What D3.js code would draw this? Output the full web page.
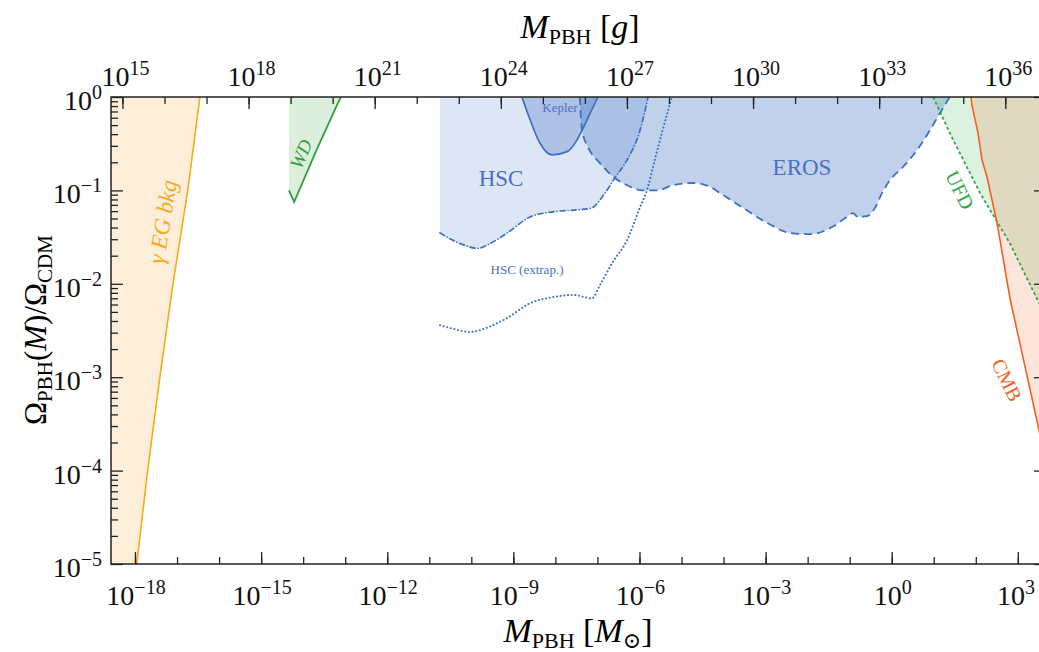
<!DOCTYPE html>
<html>
<head>
<meta charset="utf-8">
<script src="https://cdn.jsdelivr.net/npm/d3@7"></script>
<style>
  body { margin: 0; background: #fff; }
  svg { display: block; }
  text { font-family: "Liberation Serif", "DejaVu Serif", serif; }
</style>
</head>
<body>
<div id="chart"></div>
<script>
// constraint curves, [M_PBH in solar masses, f = Omega_PBH/Omega_CDM]
const gammaEG = [[1.1e-18, 1e-5], [2.0e-18, 1e-4], [3.9e-18, 1e-3], [8.0e-18, 1e-2], [1.8e-17, 0.1], [3.5e-17, 1]]
const wdBound = [[4.6e-15, 1], [4.6e-15, 0.1], [6.1e-15, 0.075], [2.0e-14, 0.26], [6.7e-14, 0.86], [7.9e-14, 1]]
const hscBound = [[1.8e-11, 0.035], [5.4e-11, 0.027], [1.44e-10, 0.024], [2.8e-10, 0.027], [7.1e-10, 0.035],
  [2.5e-9, 0.052], [8.8e-9, 0.059], [3.3e-8, 0.062], [7.4e-8, 0.065], [1.3e-7, 0.085], [2.6e-7, 0.136],
  [5.0e-7, 0.21], [1.03e-6, 0.44], [1.6e-6, 1]]
const hscExtrap = [[1.8e-11, 3.6e-3], [3.7e-11, 3.3e-3], [9.3e-11, 3.05e-3], [2.4e-10, 3.4e-3], [7.1e-10, 4.3e-3],
  [2.5e-9, 6.2e-3], [8.8e-9, 7.2e-3], [2.6e-8, 7.6e-3], [7.4e-8, 7.0e-3], [1.15e-7, 9.7e-3], [2.3e-7, 0.017],
  [5.0e-7, 0.029], [1.03e-6, 0.066], [1.5e-6, 0.10], [2.3e-6, 0.21], [3.4e-6, 0.41], [5.9e-6, 1]]
const keplerBound = [[1.6e-9, 1], [2.5e-9, 0.57], [4.3e-9, 0.32], [8.3e-9, 0.24], [1.9e-8, 0.26], [3.3e-8, 0.35],
  [4.3e-8, 0.44], [6.7e-8, 0.67], [1.03e-7, 1]]
const erosBound = [[3.8e-8, 1], [4.3e-8, 0.44], [6.0e-8, 0.29], [1.15e-7, 0.196], [2.6e-7, 0.136], [5.0e-7, 0.114],
  [1.2e-6, 0.10], [2.6e-6, 0.10], [6.3e-6, 0.114], [1.9e-5, 0.12], [4.8e-5, 0.109], [8.2e-5, 0.094],
  [2.9e-4, 0.065], [1.08e-3, 0.045], [3.8e-3, 0.035], [0.0114, 0.034], [0.040, 0.041], [0.086, 0.052],
  [0.12, 0.057], [0.158, 0.052], [0.26, 0.053], [0.40, 0.065], [0.59, 0.094], [0.91, 0.129], [1.85, 0.178],
  [4.0, 0.27], [8.1, 0.44], [14, 0.67], [24, 1]]
const ufdBound = [[9.6, 1], [28.7, 0.35], [126, 0.094], [650, 0.027], [3000, 6.6e-3], [4700, 4.6e-3]]
const cmbBound = [[77, 1], [81, 0.82], [113, 0.41], [141, 0.21], [185, 0.139], [320, 0.045],
  [650, 7.0e-3], [3200, 2.7e-4], [4700, 1.0e-4]]

// axis ticks (exponents)
const xLabelExp = [-18, -15, -12, -9, -6, -3, 0, 3]
const gramLabelExp = [15, 18, 21, 24, 27, 30, 33, 36]
const yLabelExp = [0, -1, -2, -3, -4, -5]
const GRAMS_PER_MSUN = 1.989e33

const W = 1039, H = 652
const LEFT = 111, RIGHT = 1046, TOP = 97, BOTTOM = 564

const svg = d3.select("#chart").append("svg").attr("width", W).attr("height", H)

const x = d3.scaleLog().domain([Math.pow(10, -18.571), Math.pow(10, 3.670)]).range([LEFT, RIGHT])
const xg = d3.scaleLog().domain(x.domain().map(d => d * GRAMS_PER_MSUN)).range([LEFT, RIGHT])
const y = d3.scaleLog().domain([1e-5, 1]).range([BOTTOM, TOP])

svg.append("clipPath").attr("id", "plotclip")
  .append("rect").attr("x", LEFT).attr("y", TOP).attr("width", RIGHT - LEFT).attr("height", BOTTOM - TOP)

const plot = svg.append("g").attr("clip-path", "url(#plotclip)")

const BLUE = "#3d6fc2"

// regions bounded from above (function of M)
const topArea = d3.area().x(d => x(d[0])).y0(TOP - 5).y1(d => y(d[1])).curve(d3.curveMonotoneX)
// regions bounded by a curve on the left/right (function of f)
const leftArea = d3.area().y(d => y(d[1])).x0(LEFT - 5).x1(d => x(d[0]))
const rightArea = d3.area().y(d => y(d[1])).x0(d => x(d[0])).x1(RIGHT + 5)
const lineX = d3.line().x(d => x(d[0])).y(d => y(d[1])).curve(d3.curveMonotoneX)
const lineLin = d3.line().x(d => x(d[0])).y(d => y(d[1]))

// fills
plot.append("path").attr("d", topArea(hscBound)).attr("fill", "rgb(68,114,196)").attr("fill-opacity", 0.18)
plot.append("path").attr("d", topArea(erosBound)).attr("fill", "rgb(68,114,196)").attr("fill-opacity", 0.33)
plot.append("path").attr("d", topArea(keplerBound)).attr("fill", "rgb(68,114,196)").attr("fill-opacity", 0.3)
plot.append("path").attr("d", leftArea(gammaEG)).attr("fill", "#fdeeda")
plot.append("path").attr("d", lineLin(wdBound) + "Z").attr("fill", "#dcefdd")
plot.append("path").attr("d", rightArea(ufdBound)).attr("fill", "rgb(60,180,80)").attr("fill-opacity", 0.18)
plot.append("path").attr("d", rightArea(cmbBound)).attr("fill", "rgb(245,100,50)").attr("fill-opacity", 0.17)

// boundary lines
plot.append("path").attr("d", lineX(hscExtrap)).attr("fill", "none").attr("stroke", BLUE)
  .attr("stroke-width", 2).attr("stroke-dasharray", "0.1,3.6").attr("stroke-linecap", "round")
plot.append("path").attr("d", lineX(hscBound)).attr("fill", "none").attr("stroke", BLUE)
  .attr("stroke-width", 1.7).attr("stroke-dasharray", "5,3,0.1,3").attr("stroke-linecap", "round")
plot.append("path").attr("d", lineX(erosBound)).attr("fill", "none").attr("stroke", BLUE)
  .attr("stroke-width", 1.8).attr("stroke-dasharray", "8,5")
plot.append("path").attr("d", lineX(keplerBound)).attr("fill", "none").attr("stroke", BLUE).attr("stroke-width", 1.7)
plot.append("path").attr("d", lineLin(gammaEG)).attr("fill", "none").attr("stroke", "#f6aa1c").attr("stroke-width", 1.6)
plot.append("path").attr("d", lineLin(wdBound.slice(1))).attr("fill", "none").attr("stroke", "#2f9e3f").attr("stroke-width", 1.8)
plot.append("path").attr("d", lineLin(ufdBound)).attr("fill", "none").attr("stroke", "#2fa844")
  .attr("stroke-width", 1.8).attr("stroke-dasharray", "3,2.5")
plot.append("path").attr("d", lineLin(cmbBound)).attr("fill", "none").attr("stroke", "#f4601f").attr("stroke-width", 1.6)

// region labels
function regionLabel(txt, px, py, angle, size, color, italic) {
  svg.append("text")
    .attr("transform", `translate(${px},${py}) rotate(${angle})`)
    .attr("text-anchor", "middle").attr("dominant-baseline", "central")
    .attr("font-size", size).attr("fill", color)
    .attr("font-style", italic ? "italic" : "normal")
    .text(txt)
}
regionLabel("γ EG bkg", 163, 222, -81, 23, "#f6aa1c", true)
regionLabel("WD", 301, 154, -66, 19, "#2f9e3f", true)
regionLabel("HSC", 501, 178, 0, 23, "#4a70c0", false)
regionLabel("Kepler", 560, 107, 0, 13, "#4a70c0", false)
regionLabel("HSC (extrap.)", 527, 269, 0, 13, "#4a70c0", false)
regionLabel("EROS", 802, 167, 0, 23, "#4a70c0", false)
regionLabel("UFD", 960, 190, 63, 20, "#2fa844", false)
regionLabel("CMB", 1007, 380, 64, 20, "#f4601f", false)

// ticks
const decadesX = d3.range(-18, 4).map(e => Math.pow(10, e))
const decadesG = d3.range(15, 38).map(e => Math.pow(10, e))
const yMinor = []
for (let e = -5; e < 0; e++) for (let k = 2; k <= 9; k++) yMinor.push(k * Math.pow(10, e))
const yMajor = yLabelExp.map(e => Math.pow(10, e))

function tickAxis(axis, tx, ty, vals, size) {
  const g = svg.append("g").attr("transform", `translate(${tx},${ty})`)
    .call(axis.tickValues(vals).tickSize(size).tickFormat(""))
  g.select(".domain").remove()
  g.selectAll("line").attr("stroke", "#222").attr("stroke-width", 1.3)
}
tickAxis(d3.axisTop(x), 0, BOTTOM, decadesX, 7)
tickAxis(d3.axisTop(x), 0, BOTTOM, xLabelExp.map(e => Math.pow(10, e)), 12)
tickAxis(d3.axisBottom(xg), 0, TOP, decadesG, 7)
tickAxis(d3.axisBottom(xg), 0, TOP, gramLabelExp.map(e => Math.pow(10, e)), 12)
tickAxis(d3.axisRight(y), LEFT, 0, yMinor, 7)
tickAxis(d3.axisRight(y), LEFT, 0, yMajor, 12)
tickAxis(d3.axisLeft(y), RIGHT, 0, yMinor, 7)
tickAxis(d3.axisLeft(y), RIGHT, 0, yMajor, 12)

svg.append("rect").attr("x", LEFT).attr("y", TOP).attr("width", RIGHT - LEFT).attr("height", BOTTOM - TOP)
  .attr("fill", "none").attr("stroke", "#222").attr("stroke-width", 1.5)

// tick labels with superscript exponents
function powLabel(px, py, exp, anchor) {
  const t = svg.append("text").attr("x", px).attr("y", py).attr("text-anchor", anchor)
    .attr("font-size", 28).attr("fill", "#111")
  t.append("tspan").text("10")
  t.append("tspan").attr("dy", -11).attr("font-size", 20).text(String(exp).replace("-", "−"))
}
xLabelExp.forEach(e => powLabel(Math.min(x(Math.pow(10, e)) + 1, 1016), 605, e, "middle"))
gramLabelExp.forEach(e => powLabel(xg(Math.pow(10, e)) + 3, 86, e, "middle"))
yLabelExp.forEach(e => powLabel(102, y(Math.pow(10, e)) + 13, e, "end"))

// axis titles
function massTitle(px, py, unit) {
  const t = svg.append("text").attr("x", px).attr("y", py).attr("text-anchor", "middle").attr("font-size", 34)
  t.append("tspan").attr("font-style", "italic").text("M")
  t.append("tspan").attr("font-size", 22).attr("dy", 6).text("PBH")
  t.append("tspan").attr("dy", -6).text(" [")
  t.append("tspan").attr("font-style", "italic").text(unit === "g" ? "g" : "M")
  if (unit !== "g") {
    t.append("tspan").attr("font-size", 22).attr("dy", 6).text("⊙")
    t.append("tspan").attr("dy", -6).text("]")
  } else {
    t.append("tspan").text("]")
  }
}
massTitle(580, 38, "g")
massTitle(578, 642, "sun")

const yTitle = svg.append("text").attr("transform", "translate(46,330) rotate(-90)")
  .attr("text-anchor", "middle").attr("font-size", 31)
yTitle.append("tspan").text("Ω")
yTitle.append("tspan").attr("font-size", 21).attr("dy", 6).text("PBH")
yTitle.append("tspan").attr("dy", -6).text("(")
yTitle.append("tspan").attr("font-style", "italic").text("M")
yTitle.append("tspan").text(")/Ω")
yTitle.append("tspan").attr("font-size", 21).attr("dy", 6).text("CDM")
</script>
</body>
</html>
